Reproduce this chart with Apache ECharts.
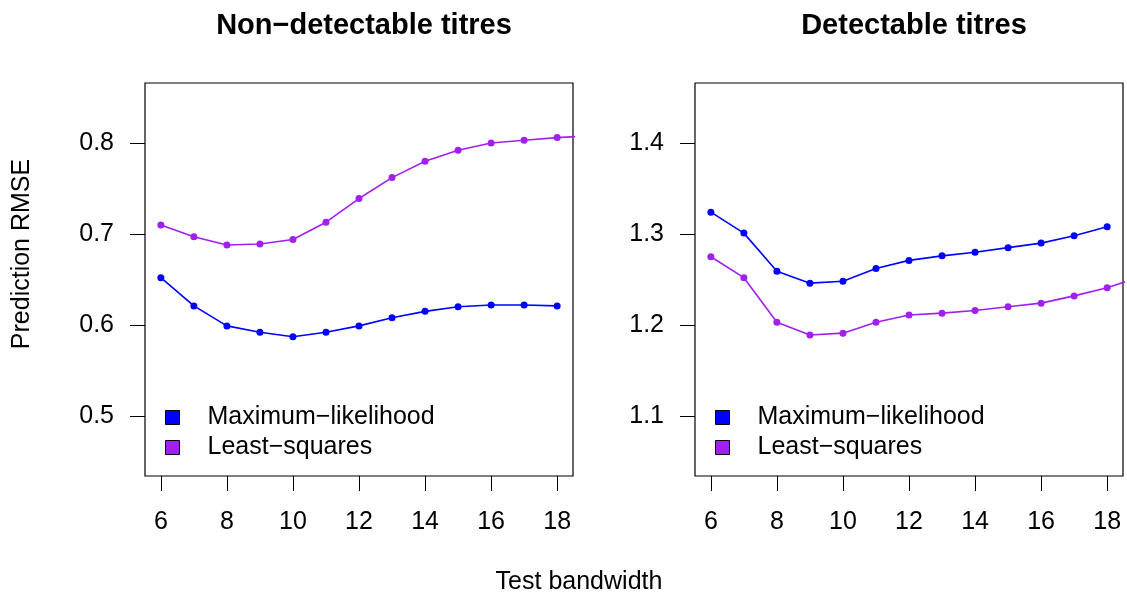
<!DOCTYPE html>
<html>
<head>
<meta charset="utf-8">
<script src="https://cdn.jsdelivr.net/npm/echarts@6/dist/echarts.min.js"></script>
<style>
  html, body { margin: 0; padding: 0; background: #fff; }
  #main { width: 1127px; height: 595px; }
</style>
</head>
<body>
<div id="main"></div>
<script type="text/javascript">
// test bandwidths (least-squares runs one step past the plotted range)
var bandwidth = [6, 7, 8, 9, 10, 11, 12, 13, 14, 15, 16, 17, 18, 19];

// Non-detectable titres
var nonDetML = [0.652, 0.621, 0.599, 0.592, 0.587, 0.592, 0.599, 0.608, 0.615, 0.620, 0.622, 0.622, 0.621];
var nonDetLS = [0.710, 0.697, 0.688, 0.689, 0.694, 0.713, 0.739, 0.762, 0.780, 0.792, 0.800, 0.803, 0.806, 0.808];

// Detectable titres
var detML = [1.324, 1.301, 1.259, 1.246, 1.248, 1.262, 1.271, 1.276, 1.280, 1.285, 1.290, 1.298, 1.308];
var detLS = [1.275, 1.252, 1.203, 1.189, 1.191, 1.203, 1.211, 1.213, 1.216, 1.220, 1.224, 1.232, 1.241, 1.253];

var xTicks = [6, 8, 10, 12, 14, 16, 18];
var yTicksLeft = [0.5, 0.6, 0.7, 0.8];
var yTicksRight = [1.1, 1.2, 1.3, 1.4];

var ML = 'Maximum\u2212likelihood';
var LS = 'Least\u2212squares';
var FONT = 'Liberation Sans';

function pairs(vals) {
    return vals.map(function (v, i) { return [bandwidth[i], v]; });
}

function xAxisOf(gi) {
    return {
        type: 'value', gridIndex: gi, min: 5.52, max: 18.48,
        axisLine: { show: false },
        splitLine: { show: false },
        axisTick: { show: true, customValues: xTicks, length: 15, lineStyle: { color: '#000', width: 1 } },
        axisLabel: { customValues: xTicks, margin: 34, color: '#000', fontSize: 25, fontFamily: FONT }
    };
}

function yAxisOf(gi, lo, hi, ticks) {
    return {
        type: 'value', gridIndex: gi, min: lo, max: hi,
        axisLine: { show: false },
        splitLine: { show: false },
        axisTick: { show: true, customValues: ticks, length: 15, lineStyle: { color: '#000', width: 1 } },
        axisLabel: {
            customValues: ticks, margin: 31, color: '#000', fontSize: 25, fontFamily: FONT,
            formatter: function (v) { return v.toFixed(1); }
        }
    };
}

function lineOf(name, color, vals, gi) {
    return {
        name: name, type: 'line', xAxisIndex: gi, yAxisIndex: gi,
        data: pairs(vals), clip: true, silent: true,
        symbol: 'circle', symbolSize: 7, showSymbol: true,
        color: color,
        lineStyle: { color: color, width: 1.6 },
        itemStyle: { color: color }
    };
}

function legendOf(left) {
    return {
        orient: 'vertical', left: left, top: 400,
        icon: 'rect', itemWidth: 14, itemHeight: 14, itemGap: 5,
        selectedMode: false,
        itemStyle: { borderColor: '#000', borderWidth: 1 },
        textStyle: { fontSize: 25, fontFamily: FONT, color: '#000', padding: [0, 0, 0, 23] },
        data: [ML, LS]
    };
}

var myChart = echarts.init(document.getElementById('main'), null, { renderer: 'canvas' });

var option = {
    animation: false,
    backgroundColor: '#fff',
    title: [
        { text: 'Non\u2212detectable titres', left: 359, top: 6, textAlign: 'center',
          textStyle: { fontSize: 29, fontWeight: 'bold', fontFamily: FONT, color: '#000' } },
        { text: 'Detectable titres', left: 909, top: 6, textAlign: 'center',
          textStyle: { fontSize: 29, fontWeight: 'bold', fontFamily: FONT, color: '#000' } }
    ],
    grid: [
        { left: 145, right: 554, top: 83, bottom: 119, show: true, borderColor: '#000', borderWidth: 1.2, containLabel: false },
        { left: 695, right: 4, top: 83, bottom: 119, show: true, borderColor: '#000', borderWidth: 1.2, containLabel: false }
    ],
    xAxis: [xAxisOf(0), xAxisOf(1)],
    yAxis: [yAxisOf(0, 0.434, 0.866, yTicksLeft), yAxisOf(1, 1.034, 1.466, yTicksRight)],
    legend: [legendOf(160), legendOf(710)],
    series: [
        lineOf(ML, '#0000ff', nonDetML, 0),
        lineOf(LS, '#a020f0', nonDetLS, 0),
        lineOf(ML, '#0000ff', detML, 1),
        lineOf(LS, '#a020f0', detLS, 1)
    ],
    graphic: [
        { type: 'text', x: 22, y: 254, rotation: Math.PI / 2,
          style: { text: 'Prediction RMSE', fontSize: 25, fontFamily: FONT, fill: '#000', align: 'center', verticalAlign: 'middle' } },
        { type: 'text', x: 579, y: 582,
          style: { text: 'Test bandwidth', fontSize: 25, fontFamily: FONT, fill: '#000', align: 'center', verticalAlign: 'middle' } }
    ]
};

myChart.setOption(option);
</script>
</body>
</html>
